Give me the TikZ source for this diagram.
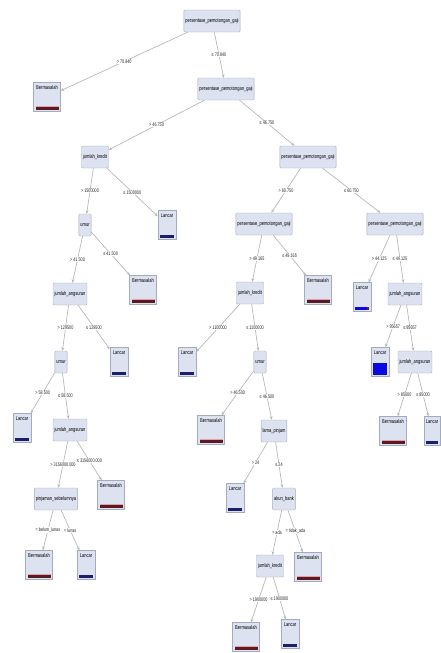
\documentclass[tikz,border=0pt]{standalone}
\usepackage{fontspec}
\setmainfont{Liberation Sans}
\newfontfamily\narrowsans[FakeStretch=0.72]{Liberation Sans}
\usetikzlibrary{arrows.meta}
\definecolor{boxfill}{HTML}{DCE2F0}
\definecolor{boxline}{HTML}{A3AABD}
\definecolor{edgegray}{HTML}{B8B8B8}
\definecolor{bmbar}{HTML}{5A1A22}
\definecolor{bmpink}{HTML}{E8A0A8}
\definecolor{lcbar}{HTML}{1C1F6E}
\definecolor{lcblue}{HTML}{0A0AE0}
\begin{document}
\begin{tikzpicture}[x=1pt,y=-1pt,
    split/.style={draw=boxline, fill=boxfill, rounded corners=1pt, minimum height=22pt,
      inner xsep=1.5pt, font=\narrowsans\fontsize{5.6}{5.6}\selectfont},
    leaf/.style={draw=boxline, fill=boxfill, inner xsep=1.5pt, inner ysep=2pt,
      text height=5pt, text depth=20pt, font=\narrowsans\fontsize{5.6}{5.6}\selectfont},
    bmleaf/.style={leaf, minimum width=27pt, path picture={
      \fill[bmpink] ([xshift=2pt,yshift=5pt]path picture bounding box.south west) rectangle ([xshift=-2pt,yshift=5.8pt]path picture bounding box.south east);
      \fill[bmbar] ([xshift=2pt,yshift=2pt]path picture bounding box.south west) rectangle ([xshift=-2pt,yshift=5pt]path picture bounding box.south east);}},
    lcleaf/.style={leaf, minimum width=18pt, path picture={
      \fill[lcbar] ([xshift=2pt,yshift=2pt]path picture bounding box.south west) rectangle ([xshift=-2pt,yshift=5pt]path picture bounding box.south east);}},
    conn/.style={draw=edgegray, line width=0.7pt, -{Stealth[length=3.5pt,width=3pt]}},
    elab/.style={fill=white, inner sep=0.5pt, font=\narrowsans\fontsize{5.2}{5.2}\selectfont, text=black!85}]
  \useasboundingbox (0,0) rectangle (440,653);

  \node[split] (root) at (212,21) {persentase\_pemotongan\_gaji};
  \node[bmleaf] (bm1) at (47,97) {Bermasalah};
  \node[split] (n2) at (226,89) {persentase\_pemotongan\_gaji};

  % left branch
  \node[split] (n4) at (95,157) {jumlah\_kredit};
  \node[split] (n5) at (85,225) {umur};
  \node[lcleaf] (lc1) at (167,225) {Lancar};
  \node[split] (n6) at (70,294) {jumlah\_angsuran};
  \node[bmleaf] (bm2) at (143,290) {Bermasalah};
  \node[split] (n7) at (61,362) {umur};
  \node[lcleaf] (lc2) at (119,362) {Lancar};
  \node[lcleaf] (lc3) at (22,428) {Lancar};
  \node[split] (n8) at (70,430) {jumlah\_angsuran};
  \node[bmleaf] (bm3) at (111,495) {Bermasalah};
  \node[split] (n9) at (56,499) {pinjaman\_sebelumnya};
  \node[bmleaf] (bm4) at (39,565) {Bermasalah};
  \node[lcleaf] (lc4) at (86,565) {Lancar};

  % right branch
  \node[split] (n3) at (308,157) {persentase\_pemotongan\_gaji};
  \node[split] (n10) at (264,224) {persentase\_pemotongan\_gaji};
  \node[split] (n11) at (395,224) {persentase\_pemotongan\_gaji};
  \node[split] (n12) at (250,293) {jumlah\_kredit};
  \node[bmleaf] (bm5) at (318,290) {Bermasalah};
  \node[leaf, minimum width=18pt, path picture={
      \fill[lcblue] ([xshift=2pt,yshift=2pt]path picture bounding box.south west) rectangle ([xshift=-4pt,yshift=5pt]path picture bounding box.south east);
      \fill[bmbar!70!red] ([xshift=-4pt,yshift=2pt]path picture bounding box.south east) rectangle ([xshift=-2pt,yshift=5pt]path picture bounding box.south east);}]
    (lc5) at (362,297) {Lancar};
  \node[split] (n17) at (405,294) {jumlah\_angsuran};
  \node[lcleaf] (lc6) at (187,362) {Lancar};
  \node[split] (n13) at (260,362) {umur};
  \node[leaf, minimum width=18pt, path picture={
      \fill[lcblue] ([xshift=2pt,yshift=2pt]path picture bounding box.south west) rectangle ([xshift=-2pt,yshift=14pt]path picture bounding box.south east);}]
    (lc7) at (380,362) {Lancar};
  \node[split] (n18) at (415,362) {jumlah\_angsuran};
  \node[bmleaf] (bm6) at (211,430) {Bermasalah};
  \node[split] (n14) at (274,431) {lama\_pinjam};
  \node[bmleaf] (bm7) at (393,431) {Bermasalah};
  \node[lcleaf, minimum width=16pt] (lc8) at (432,431) {Lancar};
  \node[lcleaf] (lc9) at (235,498) {Lancar};
  \node[split] (n15) at (284,499) {akun\_bank};
  \node[split] (n16) at (270,566) {jumlah\_kredit};
  \node[bmleaf] (bm8) at (308,567) {Bermasalah};
  \node[bmleaf] (bm9) at (246,637) {Bermasalah};
  \node[lcleaf] (lc10) at (290,634) {Lancar};

  \draw[conn] (root) -- (bm1) node[elab, midway] {> 70.840};
  \draw[conn] (root) -- (n2) node[elab, midway] {≤ 70.840};
  \draw[conn] (n2) -- (n4) node[elab, midway] {> 46.750};
  \draw[conn] (n2) -- (n3) node[elab, midway] {≤ 46.750};
  \draw[conn] (n4) -- (n5) node[elab, midway] {> 1500000};
  \draw[conn] (n4) -- (lc1) node[elab, midway] {≤ 1500000};
  \draw[conn] (n5) -- (n6) node[elab, midway] {> 41.500};
  \draw[conn] (n5) -- (bm2) node[elab, midway] {≤ 41.500};
  \draw[conn] (n6) -- (n7) node[elab, midway] {> 129500};
  \draw[conn] (n6) -- (lc2) node[elab, midway] {≤ 129500};
  \draw[conn] (n7) -- (lc3) node[elab, midway] {> 58.500};
  \draw[conn] (n7) -- (n8) node[elab, midway] {≤ 58.500};
  \draw[conn] (n8) -- (n9) node[elab, midway] {> 3156000.000};
  \draw[conn] (n8) -- (bm3) node[elab, midway] {≤ 3156000.000};
  \draw[conn] (n9) -- (bm4) node[elab, midway] {= belum\_lunas};
  \draw[conn] (n9) -- (lc4) node[elab, midway] {= lunas};

  \draw[conn] (n3) -- (n10) node[elab, midway] {> 60.750};
  \draw[conn] (n3) -- (n11) node[elab, midway] {≤ 60.750};
  \draw[conn] (n10) -- (n12) node[elab, midway] {> 49.165};
  \draw[conn] (n10) -- (bm5) node[elab, midway] {≤ 49.165};
  \draw[conn] (n11) -- (lc5) node[elab, midway] {> 44.125};
  \draw[conn] (n11) -- (n17) node[elab, midway] {≤ 44.125};
  \draw[conn] (n12) -- (lc6) node[elab, midway] {> 1100000};
  \draw[conn] (n12) -- (n13) node[elab, midway] {≤ 1100000};
  \draw[conn] (n17) -- (lc7) node[elab, midway] {> 95657};
  \draw[conn] (n17) -- (n18) node[elab, midway] {≤ 95657};
  \draw[conn] (n13) -- (bm6) node[elab, midway] {> 46.500};
  \draw[conn] (n13) -- (n14) node[elab, midway] {≤ 46.500};
  \draw[conn] (n18) -- (bm7) node[elab, midway] {> 85000};
  \draw[conn] (n18) -- (lc8) node[elab, midway] {≤ 85000};
  \draw[conn] (n14) -- (lc9) node[elab, midway] {> 24};
  \draw[conn] (n14) -- (n15) node[elab, midway] {≤ 24};
  \draw[conn] (n15) -- (n16) node[elab, midway] {= ada};
  \draw[conn] (n15) -- (bm8) node[elab, midway] {= tidak\_ada};
  \draw[conn] (n16) -- (bm9) node[elab, midway] {> 1900000};
  \draw[conn] (n16) -- (lc10) node[elab, midway] {≤ 1900000};
\end{tikzpicture}
\end{document}
